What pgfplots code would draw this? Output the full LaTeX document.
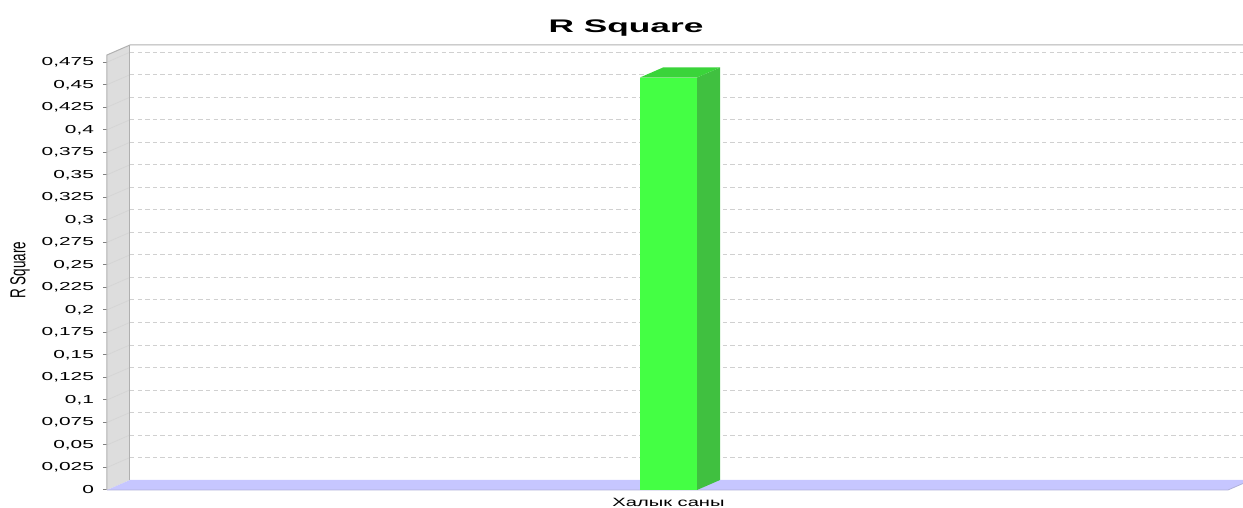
\documentclass[border=0pt]{standalone}
\usepackage{pgfplots}
\pgfplotsset{compat=1.18}
\usepackage{fontspec}
\setmainfont{Liberation Sans}
\usepackage{graphicx}
\definecolor{barfront}{RGB}{68,255,68}
\definecolor{bartop}{RGB}{58,212,58}
\definecolor{barside}{RGB}{64,192,64}
\definecolor{floorc}{RGB}{198,198,255}
\definecolor{wallc}{RGB}{221,221,221}
\definecolor{wallb}{RGB}{176,176,176}
\definecolor{gridc}{RGB}{208,208,208}
\begin{document}
\begin{tikzpicture}[x=1pt,y=1pt]
\begin{axis}[
  at={(53.5pt,9pt)}, anchor=south west,
  scale only axis, width=560.5pt, height=217.5pt,
  xmin=0, xmax=1121, ymin=0, ymax=0.483,
  clip=false,
  axis line style={draw=none},
  tick pos=left,
  ytick={0,0.025,0.05,0.075,0.1,0.125,0.15,0.175,0.2,0.225,0.25,0.275,0.3,0.325,0.35,0.375,0.4,0.425,0.45,0.475},
  yticklabel={\scalebox{1.8}[1]{\fontsize{5.8}{6}\selectfont\pgfmathprintnumber[assume math mode=true,fixed,precision=3,use comma]{\tick}}},
  yticklabel style={anchor=east, xshift=-1pt},
  xtick={561.5},
  xticklabels={\scalebox{1.68}[1]{\fontsize{6}{7}\selectfont Халык саны}},
  xticklabel style={anchor=north, inner sep=0pt, yshift=-2pt},
  x tick style={draw=none},
  y tick style={draw=gray, line width=0.5pt},
  tick align=outside, major tick length=2pt,
]
% left wall
\fill[wallc] (axis cs:0,0) -- (axis cs:0,0.483) -- ([shift={(11.5pt,5pt)}]axis cs:0,0.483) -- ([shift={(11.5pt,5pt)}]axis cs:0,0) -- cycle;
% grid lines on back wall and left wall
\pgfplotsinvokeforeach{0.025,0.05,0.075,0.1,0.125,0.15,0.175,0.2,0.225,0.25,0.275,0.3,0.325,0.35,0.375,0.4,0.425,0.45,0.475}{
  \draw[gridc, line width=0.4pt, dash pattern=on 2.2pt off 1.6pt] ([shift={(11.5pt,5pt)}]axis cs:0,#1) -- ([shift={(11.5pt,5pt)}]axis cs:1130,#1);
  \draw[gridc!60!wallc, line width=0.4pt] (axis cs:0,#1) -- ([shift={(11.5pt,5pt)}]axis cs:0,#1);
}
% wall borders
\draw[wallb, line width=0.5pt] (axis cs:0,0) -- (axis cs:0,0.483) -- ([shift={(11.5pt,5pt)}]axis cs:0,0.483) -- ([shift={(11.5pt,5pt)}]axis cs:1130,0.483);
\draw[wallb, line width=0.5pt] ([shift={(11.5pt,5pt)}]axis cs:0,0.483) -- ([shift={(11.5pt,5pt)}]axis cs:0,0);
% floor
\fill[floorc] (axis cs:0,0) -- (axis cs:1121,0) -- ([shift={(11.5pt,5pt)}]axis cs:1121,0) -- ([shift={(11.5pt,5pt)}]axis cs:0,0) -- cycle;
\draw[floorc!70!gray, line width=0.4pt] (axis cs:0,0) -- (axis cs:1121,0) -- ([shift={(11.5pt,5pt)}]axis cs:1121,0);
% bar (3D faces)
\addplot[fill=barside, draw=none] coordinates {(590,0) (613,0.01111) (613,0.46911) (590,0.458)} -- cycle;
\addplot[fill=bartop, draw=none] coordinates {(533,0.458) (556,0.46911) (613,0.46911) (590,0.458)} -- cycle;
\addplot[ybar, bar width=57, fill=barfront, draw=none] coordinates {(561.5,0.458)};
\end{axis}
\node[anchor=base] at (313,237.5) {\scalebox{1.94}[1]{\fontsize{9.1}{10}\selectfont\bfseries R Square}};
\node[rotate=90] at (10,119) {\scalebox{1}[1.6]{\fontsize{6.75}{7}\selectfont R Square}};
\pgfresetboundingbox
\path[use as bounding box] (0,0) rectangle (621.5,254);
\end{tikzpicture}
\end{document}
